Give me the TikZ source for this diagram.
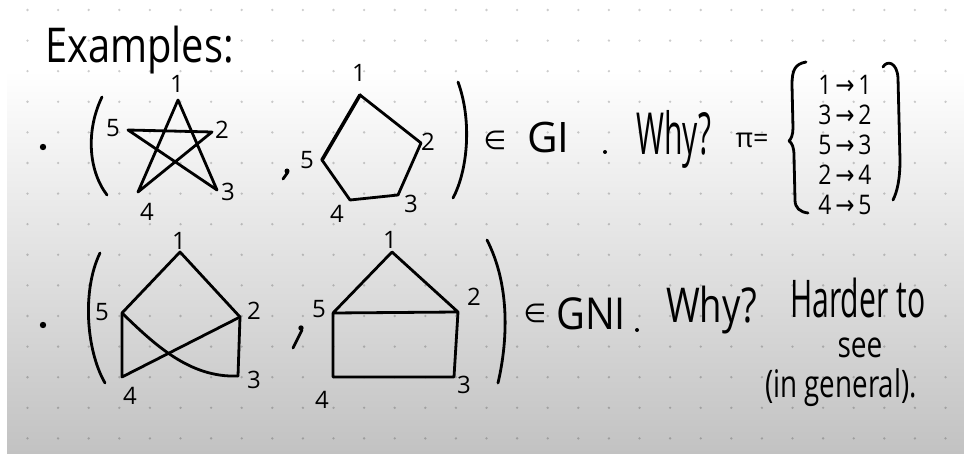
\documentclass[tikz,border=0pt]{standalone}
\usepackage{graphicx}
\usepackage{fontspec}
\setmainfont{Open Sans}
\newfontfamily\symfont{DejaVu Sans}
\usetikzlibrary{positioning}

\definecolor{boardgray}{RGB}{194,194,194}
\newcommand{\penfont}[1]{\fontsize{#1}{#1}\selectfont}
\newcommand{\handw}[2]{\scalebox{#1}[1]{#2}}
\newcommand{\mapsym}{{\symfont\,→\,}}

\begin{document}
\begin{tikzpicture}[x=1pt, y=-1pt,
    pen/.style={line width=2.8pt, line cap=round, line join=round},
    vlabel/.style={font=\penfont{24}, inner sep=0pt},
    hand/.style={inner sep=0pt, anchor=base west},
    mapline/.style={font=\penfont{27}, inner sep=0pt, text height=20pt, text depth=0pt},
    griddot/.style={fill=black, opacity=0.2}]
    \useasboundingbox (0,0) rectangle (964,454);

    % Board with dot grid
    \fill[white] (0,0) rectangle (964,454);
    \shade[top color=white, bottom color=boardgray] (7,70) rectangle (964,454);
    \foreach \i in {0,...,30}
        \foreach \j in {0,...,14}
            \fill[griddot] (27.5+30.6*\i, 10+30.6*\j) circle (1.3);

    % Title
    \node[hand, font=\penfont{48}] (title) at (45,63) {\handw{0.83}{Examples:}};

    % First pair: star and pentagon
    \fill (43,147) circle (3.2);
    \draw[pen] (102,97) .. controls (86,130) and (88,170) .. (107,195);
    \coordinate (a1) at (178,100);
    \coordinate (a2) at (212,132);
    \coordinate (a3) at (217,190);
    \coordinate (a4) at (138,192);
    \coordinate (a5) at (128,130);
    \draw[pen] (a1) -- (a4) -- (a2) -- (a5) -- (a3) -- cycle;
    \node[vlabel] (la1) at (177,84) {1};
    \node[vlabel] (la2) at (222,130) {2};
    \node[vlabel] (la3) at (228,192) {3};
    \node[vlabel] (la4) at (147,212) {4};
    \node[vlabel] (la5) at (113,128) {5};

    \fill (287,171) circle (2.5);
    \draw[pen] (288,172) -- (283,179);

    \coordinate (b1) at (360,95);
    \coordinate (b2) at (421,143);
    \coordinate (b3) at (398,195);
    \coordinate (b4) at (350,200);
    \coordinate (b5) at (322,160);
    \draw[pen] (b1) -- (b2) -- (b3) -- (b4) -- (b5);
    \draw[pen, line width=3.6pt] (b5) -- (b1);
    \node[vlabel] (lb1) at (359,73) {1};
    \node[vlabel] (lb2) at (428,142) {2};
    \node[vlabel] (lb3) at (411,204) {3};
    \node[vlabel] (lb4) at (337,214) {4};
    \node[vlabel] (lb5) at (307,160) {5};
    \draw[pen] (458,82) .. controls (472,120) and (468,170) .. (453,198);

    \node[font=\penfont{26}\symfont, inner sep=0pt] (in1) at (495,140) {∈};
    \node[hand, font=\penfont{42}] (gi) at (527,153) {\handw{1.0}{GI}};
    \fill (605,152) circle (2);
    \node[hand, font=\penfont{58}] (why1) at (636,155) {\handw{0.52}{Why?}};
    \node[font=\penfont{27}, inner sep=0pt] (pi) at (752,140) {π=};

    % The bijection pi
    \draw[pen] (806,62) .. controls (795,64) and (792,70) .. (792,85) -- (793,128)
        .. controls (793,135) and (791,139) .. (789,141)
        .. controls (792,143) and (794,147) .. (794,156) -- (795,200)
        .. controls (795,208) and (800,212) .. (808,213);
    \node[mapline] (m1) at (845,85) {\handw{0.85}{1\mapsym 1}};
    \node[mapline, below=9.5pt of m1] (m2) {\handw{0.85}{3\mapsym 2}};
    \node[mapline, below=9.5pt of m2] (m3) {\handw{0.85}{5\mapsym 3}};
    \node[mapline, below=9.5pt of m3] (m4) {\handw{0.85}{2\mapsym 4}};
    \node[mapline, below=9.5pt of m4] (m5) {\handw{0.85}{4\mapsym 5}};
    \draw[pen] (883,67) .. controls (887,60) and (897,62) .. (898,78) -- (900,160)
        .. controls (900,180) and (897,192) .. (893,200);

    % Second pair
    \fill (43,325) circle (3.2);
    \draw[pen] (100,253) .. controls (82,290) and (86,350) .. (105,383);
    \coordinate (c1) at (180,252);
    \coordinate (c2) at (240,317);
    \coordinate (c3) at (238,376);
    \coordinate (c4) at (122,377);
    \coordinate (c5) at (122,313);
    \draw[pen] (c5) -- (c1) -- (c2) -- (c3);
    \draw[pen] (c5) -- (c4) -- (c2);
    \draw[pen] (c5) .. controls (155,345) and (190,378) .. (c3);
    \node[vlabel] (lc1) at (179,241) {1};
    \node[vlabel] (lc2) at (254,311) {2};
    \node[vlabel] (lc3) at (254,380) {3};
    \node[vlabel] (lc4) at (130,396) {4};
    \node[vlabel] (lc5) at (102,312) {5};

    \fill (301,328) circle (2.7);
    \draw[pen] (302,330) -- (293,348);

    \coordinate (d1) at (392,252);
    \coordinate (d2) at (458,312);
    \coordinate (d3) at (454,377);
    \coordinate (d4) at (333,377);
    \coordinate (d5) at (333,313);
    \draw[pen] (d5) -- (d1) -- (d2) -- (d3) -- (d4) -- (d5) -- (d2);
    \node[vlabel] (ld1) at (390,240) {1};
    \node[vlabel] (ld2) at (474,297) {2};
    \node[vlabel] (ld3) at (464,385) {3};
    \node[vlabel] (ld4) at (322,400) {4};
    \node[vlabel] (ld5) at (319,309) {5};
    \draw[pen] (487,240) .. controls (510,285) and (508,340) .. (498,383);

    \node[font=\penfont{26}\symfont, inner sep=0pt] (in2) at (535,313) {∈};
    \node[hand, font=\penfont{44}] (gni) at (556,330) {\handw{0.9}{GNI}};
    \fill (637,330) circle (2);
    \node[hand, font=\penfont{48}] (why2) at (666,323) {\handw{0.76}{Why?}};
    \node[hand, font=\penfont{52}] (harder) at (790,318) {\handw{0.58}{Harder to}};
    \node[inner sep=0pt, anchor=base, font=\penfont{36}] (see) at (860,357) {\handw{0.78}{see}};
    \node[hand, font=\penfont{38}] (general) at (765,397) {\handw{0.73}{(in general).}};
\end{tikzpicture}
\end{document}
